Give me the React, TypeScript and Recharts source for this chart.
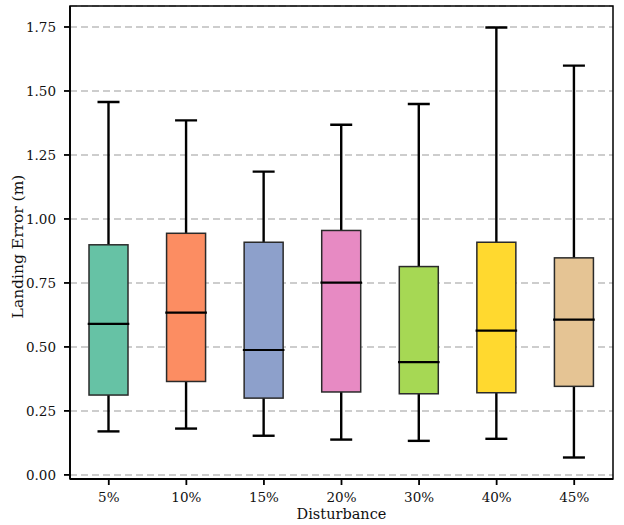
import React from "react";
import { ComposedChart, Bar, XAxis, YAxis, CartesianGrid, ReferenceArea } from "recharts";

const categories = ["5%", "10%", "15%", "20%", "30%", "40%", "45%"];
const whiskerLow = [0.17, 0.181, 0.153, 0.138, 0.133, 0.141, 0.068];
const q1 = [0.312, 0.365, 0.3, 0.324, 0.317, 0.321, 0.346];
const median = [0.59, 0.634, 0.488, 0.751, 0.441, 0.564, 0.607];
const q3 = [0.899, 0.944, 0.909, 0.955, 0.814, 0.909, 0.848];
const whiskerHigh = [1.457, 1.385, 1.185, 1.368, 1.449, 1.748, 1.599];
const boxColors = ["#66c2a5", "#fc8d62", "#8da0cb", "#e78ac3", "#a6d854", "#ffd92f", "#e5c494"];
const yTicks = [0, 0.25, 0.5, 0.75, 1.0, 1.25, 1.5, 1.75];

const FONT = '"DejaVu Serif", serif';
const Y_MIN = -0.016;
const Y_MAX = 1.832;

const data = categories.map((name, i) => ({
  name,
  range: [whiskerLow[i], whiskerHigh[i]],
  lo: whiskerLow[i],
  q1: q1[i],
  med: median[i],
  q3: q3[i],
  hi: whiskerHigh[i],
  color: boxColors[i],
}));

function BoxShape(props: any) {
  const { x, y, width, height, payload } = props;
  const top = Math.min(y, y + height);
  const h = Math.abs(height);
  // linear scale inside the bar: hi at top, lo at bottom
  const px = (v: number) => top + ((payload.hi - v) / (payload.hi - payload.lo)) * h;
  const cx = x + width / 2;
  const cap = 22;
  return (
    <g>
      <line x1={cx} x2={cx} y1={px(payload.hi)} y2={px(payload.lo)} stroke="#000" strokeWidth={2.4} />
      <line x1={cx - cap / 2} x2={cx + cap / 2} y1={px(payload.hi)} y2={px(payload.hi)} stroke="#000" strokeWidth={2.4} />
      <line x1={cx - cap / 2} x2={cx + cap / 2} y1={px(payload.lo)} y2={px(payload.lo)} stroke="#000" strokeWidth={2.4} />
      <rect
        x={x}
        y={px(payload.q3)}
        width={width}
        height={px(payload.q1) - px(payload.q3)}
        fill={payload.color}
        stroke="#2a2a2a"
        strokeWidth={1.5}
      />
      <line x1={x - 1.3} x2={x + width + 1.3} y1={px(payload.med)} y2={px(payload.med)} stroke="#000" strokeWidth={2.2} />
    </g>
  );
}

const fmt = (v: number) => v.toFixed(2);

function YLabel(props: any) {
  const { viewBox } = props;
  const cx = 18;
  const cy = viewBox.y + viewBox.height / 2 + 4;
  return (
    <text
      x={cx}
      y={cy}
      transform={`rotate(-90, ${cx}, ${cy})`}
      textAnchor="middle"
      dominantBaseline="central"
      fill="#111"
      fontSize={15.5}
      fontFamily={FONT}
    >
      Landing Error (m)
    </text>
  );
}

export default function App() {
  return (
    <div style={{ width: 624, height: 525, background: "#fff" }}>
      <style>{`body{margin:0}`}</style>
      <ComposedChart
        width={624}
        height={525}
        data={data}
        margin={{ top: 6, right: 11, bottom: 6, left: 0 }}
      >
        <CartesianGrid vertical={false} stroke="#bdbdbd" strokeWidth={1.5} strokeDasharray="7 4" />
        <XAxis
          dataKey="name"
          height={40}
          tickSize={6}
          tickMargin={7}
          axisLine={{ stroke: "#000", strokeWidth: 1.8 }}
          tickLine={{ stroke: "#000", strokeWidth: 1.8 }}
          tick={{ fill: "#111", fontSize: 13.5, fontFamily: FONT }}
          label={{ value: "Disturbance", position: "insideBottom", offset: 0, fill: "#111", fontSize: 14.5, fontFamily: FONT }}
        />
        <YAxis
          type="number"
          domain={[Y_MIN, Y_MAX]}
          ticks={yTicks}
          width={70}
          tickSize={6}
          tickMargin={8}
          tickFormatter={fmt}
          allowDataOverflow
          axisLine={{ stroke: "#000", strokeWidth: 1.8 }}
          tickLine={{ stroke: "#000", strokeWidth: 1.8 }}
          tick={{ fill: "#111", fontSize: 13.5, fontFamily: FONT }}
          label={<YLabel />}
        />
        <Bar dataKey="range" barSize={39} shape={<BoxShape />} isAnimationActive={false} />
        <ReferenceArea y1={Y_MIN} y2={Y_MAX} fill="none" fillOpacity={0} stroke="#000" strokeWidth={1.5} ifOverflow="visible" />
      </ComposedChart>
    </div>
  );
}
